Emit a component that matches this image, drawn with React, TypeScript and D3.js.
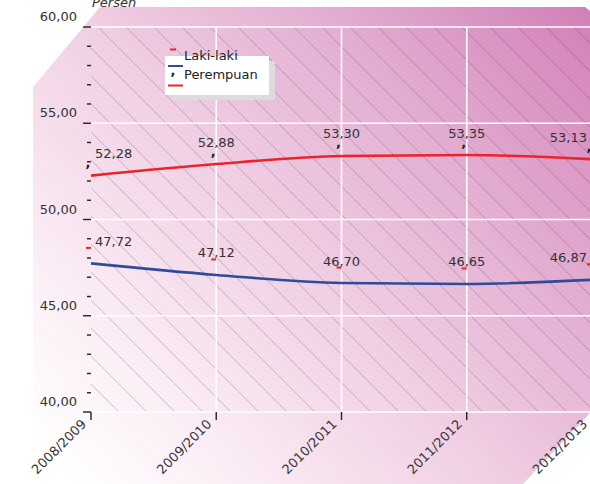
import React from "react";
import * as d3 from "d3";

const years = ["2008/2009", "2009/2010", "2010/2011", "2011/2012", "2012/2013"];
const lakiLaki = [47.72, 47.12, 46.7, 46.65, 46.87];
const perempuan = [52.28, 52.88, 53.3, 53.35, 53.13];
const yTicks = [40, 45, 50, 55, 60];
const legendLabels = ["Laki-laki", "Perempuan"];
const unitLabel = "Persen";

const W = 590;
const H = 484;
const FONT = "'DejaVu Sans', Verdana, sans-serif";
const RED = "#ec2329";
const BLUE = "#2f4c9c";

const fmt = (v: number) => v.toFixed(2).replace(".", ",");

export default function App() {
  const x = d3.scalePoint<string>().domain(years).range([91, 592]);
  const y = d3.scaleLinear().domain([40, 60]).range([412, 27]);
  const left = 91;
  const right = 592;
  const top = y(60);
  const bottom = y(40);

  const line = d3
    .line<number>()
    .x((_, i) => x(years[i]) as number)
    .y((d) => y(d))
    .curve(d3.curveMonotoneX);

  const minor = d3.range(41, 60, 1).filter((v) => v % 5 !== 0);

  const hatchStep = 28;
  const hatchH = bottom - top;
  const hatch: number[] = [];
  for (let x0 = left - hatchH; x0 < right + 10; x0 += hatchStep) hatch.push(x0);

  const labelPos = (i: number) => {
    const px = x(years[i]) as number;
    if (i === 0) return { x: px + 4, anchor: "start" };
    if (i === years.length - 1) return { x: px - 5, anchor: "end" };
    return { x: px, anchor: "middle" };
  };

  const bgPoints = [
    [33, 87],
    [100, 7],
    [585, 7],
    [590, 11],
    [590, 413],
    [523, 484],
    [33, 484],
  ]
    .map((p) => p.join(","))
    .join(" ");

  return (
    <div style={{ position: "absolute", left: 0, top: 0 }}>
      <svg width={W} height={H} style={{ display: "block", fontFamily: FONT }}>
        <defs>
          <linearGradient id="bg" gradientUnits="userSpaceOnUse" x1={60} y1={470} x2={590} y2={0}>
            <stop offset="0" stopColor="#ffffff" />
            <stop offset="0.18" stopColor="#fbedf5" />
            <stop offset="0.45" stopColor="#f0cfe4" />
            <stop offset="0.72" stopColor="#e2acd0" />
            <stop offset="1" stopColor="#d17fb6" />
          </linearGradient>
          <clipPath id="plotClip">
            <rect x={left} y={top} width={right - left} height={bottom - top} />
          </clipPath>
        </defs>
        <polygon points={bgPoints} fill="url(#bg)" />

        <text x={92} y={7} fontSize={13} fontStyle="italic" fill="#333">
          {unitLabel}
        </text>

        {/* hatching */}
        <g clipPath="url(#plotClip)">
          {hatch.map((x0, i) => (
            <line
              key={i}
              x1={x0}
              y1={top}
              x2={x0 + hatchH}
              y2={bottom}
              stroke="#000"
              strokeOpacity={0.32}
              strokeWidth={0.6}
            />
          ))}
        </g>

        {/* grid */}
        {yTicks.map((t) => (
          <line key={"gy" + t} x1={left} x2={right} y1={y(t)} y2={y(t)} stroke="#fff" strokeWidth={1.6} />
        ))}
        {years.slice(1).map((yr) => (
          <line
            key={"gx" + yr}
            x1={x(yr) as number}
            x2={x(yr) as number}
            y1={top}
            y2={bottom}
            stroke="#fff"
            strokeWidth={1.6}
          />
        ))}

        {/* y axis ticks */}
        {yTicks.map((t) => (
          <g key={"yt" + t}>
            <line x1={left - 8} x2={left} y1={y(t)} y2={y(t)} stroke="#222" strokeWidth={1.4} />
            <text x={77} y={y(t) - 6} fontSize={13} textAnchor="end" fill="#333">
              {fmt(t)}
            </text>
          </g>
        ))}
        {minor.map((t) => (
          <line key={"ym" + t} x1={left - 4} x2={left} y1={y(t)} y2={y(t)} stroke="#222" strokeWidth={1.4} />
        ))}

        {/* x axis ticks + labels */}
        {years.map((yr) => {
          const px = x(yr) as number;
          return (
            <g key={"xt" + yr}>
              <line x1={px} x2={px} y1={bottom} y2={bottom + 8} stroke="#222" strokeWidth={1.4} />
              <text
                transform={`translate(${px - 4},${bottom + 13}) rotate(-45)`}
                fontSize={13}
                textAnchor="end"
                fill="#333"
              >
                {yr}
              </text>
            </g>
          );
        })}

        {/* lines */}
        <path d={line(perempuan) || ""} fill="none" stroke={RED} strokeWidth={2.6} />
        <path d={line(lakiLaki) || ""} fill="none" stroke={BLUE} strokeWidth={2.6} />

        {/* markers & labels: perempuan */}
        {perempuan.map((v, i) => {
          const px = x(years[i]) as number;
          const py = y(v);
          const lp = labelPos(i);
          return (
            <g key={"pl" + i}>
              <text x={px - 3} y={py - 8.5} fontSize={13} fontWeight="bold" textAnchor="middle" fill="#222">
                ,
              </text>
              <text x={lp.x} y={py - 17.5} fontSize={13} textAnchor={lp.anchor as any} fill="#333">
                {fmt(v)}
              </text>
            </g>
          );
        })}

        {/* markers & labels: laki-laki */}
        {lakiLaki.map((v, i) => {
          const px = x(years[i]) as number;
          const py = y(v);
          const lp = labelPos(i);
          return (
            <g key={"ll" + i}>
              <text x={lp.x} y={py - 17.5} fontSize={13} textAnchor={lp.anchor as any} fill="#333">
                {fmt(v)}
              </text>
              <rect x={px - 5} y={py - 16.5} width={5} height={2} fill={RED} />
            </g>
          );
        })}

        {/* legend */}
        <rect x={171} y={61} width={104} height={39} fill="#dcdcdc" />
        <rect x={165} y={56} width={104} height={39} fill="#fff" />
        <rect x={170} y={48.5} width={6} height={2} fill={RED} />
        <line x1={168} x2={183} y1={66} y2={66} stroke={BLUE} strokeWidth={2} />
        <text x={173} y={75} fontSize={13} fontWeight="bold" textAnchor="middle" fill="#222">
          ,
        </text>
        <line x1={168} x2={183} y1={85.5} y2={85.5} stroke={RED} strokeWidth={2} />
        <text x={184} y={60} fontSize={13} fill="#222">
          {legendLabels[0]}
        </text>
        <text x={184} y={79} fontSize={13} fill="#222">
          {legendLabels[1]}
        </text>
      </svg>
    </div>
  );
}
